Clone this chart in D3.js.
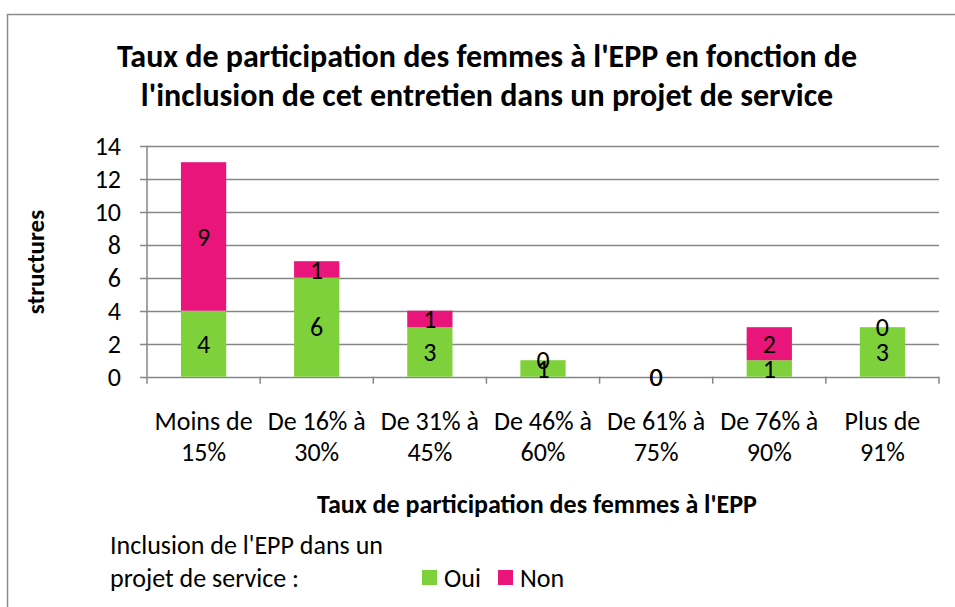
<!DOCTYPE html>
<html>
<head>
<meta charset="utf-8">
<script src="https://cdn.jsdelivr.net/npm/d3@7"></script>
<style>
  body { margin: 0; background: #fff; }
  svg text { font-family: Carlito, Calibri, "Open Sans", sans-serif; fill: #000; }
</style>
</head>
<body>
<div id="chart"></div>
<script>
// data
const categories = [
    ["Moins de", "15%"],
    ["De 16% à", "30%"],
    ["De 31% à", "45%"],
    ["De 46% à", "60%"],
    ["De 61% à", "75%"],
    ["De 76% à", "90%"],
    ["Plus de", "91%"]
];
const oui = [4, 6, 3, 1, 0, 1, 3];
const non = [9, 1, 1, 0, 0, 2, 0];
const yTicks = [0, 2, 4, 6, 8, 10, 12, 14];
const seriesNames = ["Oui", "Non"];
const seriesColors = ["#7fd13b", "#ea157a"];

const width = 955, height = 607;
const plotLeft = 147, plotRight = 939;

const svg = d3.select("#chart")
    .append("svg")
    .attr("width", width)
    .attr("height", height);

// outer frame (cut off at right and bottom)
svg.append("rect")
    .attr("x", 7.5).attr("y", 14.5)
    .attr("width", width).attr("height", height)
    .attr("fill", "none")
    .attr("stroke", "#8c8c8c")
    .attr("stroke-width", 1.5);

// title
const titleLines = [
    "Taux de participation des femmes à l'EPP en fonction de",
    "l'inclusion de cet entretien dans un projet de service"
];
svg.selectAll(".title")
    .data(titleLines)
    .enter()
    .append("text")
    .attr("class", "title")
    .attr("x", 487)
    .attr("y", (d, i) => 67 + i * 39)
    .attr("text-anchor", "middle")
    .style("font-size", "32px")
    .style("font-weight", "bold")
    .text(d => d);

const x = d3.scaleBand()
    .domain(d3.range(categories.length))
    .range([plotLeft, plotRight])
    .paddingInner(0.6)
    .paddingOuter(0.3);

const y = d3.scaleLinear()
    .domain([0, 14])
    .range([376.7, 145.7]);

// gridlines
svg.append("g")
    .selectAll("line")
    .data(yTicks)
    .enter()
    .append("line")
    .attr("x1", plotLeft - 7)
    .attr("x2", plotRight)
    .attr("y1", d => Math.round(y(d)) + 0.5)
    .attr("y2", d => Math.round(y(d)) + 0.5)
    .attr("stroke", "#868686")
    .attr("stroke-width", 1.5);

// y axis line
svg.append("line")
    .attr("x1", plotLeft).attr("x2", plotLeft)
    .attr("y1", y(14)).attr("y2", y(0))
    .attr("stroke", "#868686")
    .attr("stroke-width", 1.5);

// y tick labels
svg.append("g")
    .selectAll("text")
    .data(yTicks)
    .enter()
    .append("text")
    .attr("x", 121)
    .attr("y", d => y(d))
    .attr("dy", "0.35em")
    .attr("text-anchor", "end")
    .style("font-size", "26px")
    .text(d => d);

// x tick marks at category boundaries
const boundaries = d3.range(categories.length + 1)
    .map(i => plotLeft + i * (plotRight - plotLeft) / categories.length);
svg.append("g")
    .selectAll("line")
    .data(boundaries)
    .enter()
    .append("line")
    .attr("x1", d => d).attr("x2", d => d)
    .attr("y1", y(0)).attr("y2", y(0) + 7)
    .attr("stroke", "#868686")
    .attr("stroke-width", 1.5);

// stacked data
const rows = categories.map((c, i) => ({ i: i, Oui: oui[i], Non: non[i] }));
const stacked = d3.stack().keys(seriesNames)(rows);

const layers = svg.append("g")
    .selectAll("g")
    .data(stacked)
    .enter()
    .append("g")
    .attr("fill", (d, i) => seriesColors[i]);

layers.selectAll("rect")
    .data(d => d)
    .enter()
    .append("rect")
    .attr("x", d => x(d.data.i))
    .attr("width", x.bandwidth())
    .attr("y", d => y(d[1]))
    .attr("height", d => y(d[0]) - y(d[1]));

// value labels in the middle of each segment
stacked.forEach(layer => {
    svg.append("g")
        .selectAll("text")
        .data(layer)
        .enter()
        .append("text")
        .attr("x", d => x(d.data.i) + x.bandwidth() / 2)
        .attr("y", d => y((d[0] + d[1]) / 2))
        .attr("dy", "0.35em")
        .attr("text-anchor", "middle")
        .style("font-size", "26px")
        .text(d => d.data[layer.key]);
});

// category labels
const catText = svg.append("g")
    .selectAll("text")
    .data(categories)
    .enter()
    .append("text")
    .attr("text-anchor", "middle")
    .style("font-size", "26px");
catText.selectAll("tspan")
    .data((d, i) => d.map(line => ({ line: line, i: i })))
    .enter()
    .append("tspan")
    .attr("x", d => (boundaries[d.i] + boundaries[d.i + 1]) / 2)
    .attr("y", (d, j) => 430 + j * 31)
    .text(d => d.line);

// axis titles
svg.append("text")
    .attr("x", 537)
    .attr("y", 513)
    .attr("text-anchor", "middle")
    .style("font-size", "26px")
    .style("font-weight", "bold")
    .text("Taux de participation des femmes à l'EPP");

svg.append("text")
    .attr("transform", "translate(44,262) rotate(-90)")
    .attr("text-anchor", "middle")
    .style("font-size", "25px")
    .style("font-weight", "bold")
    .text("structures");

// legend
svg.append("text")
    .attr("x", 110).attr("y", 554)
    .style("font-size", "26px")
    .text("Inclusion de l'EPP dans un");
svg.append("text")
    .attr("x", 110).attr("y", 587)
    .style("font-size", "26px")
    .text("projet de service :");

const legendX = [422, 498];
const legend = svg.append("g")
    .selectAll("g")
    .data(seriesNames)
    .enter()
    .append("g")
    .attr("transform", (d, i) => `translate(${legendX[i]}, 570)`);
legend.append("rect")
    .attr("width", 15).attr("height", 15)
    .attr("fill", (d, i) => seriesColors[i]);
legend.append("text")
    .attr("x", 22).attr("y", 17)
    .style("font-size", "26px")
    .text(d => d);
</script>
</body>
</html>
